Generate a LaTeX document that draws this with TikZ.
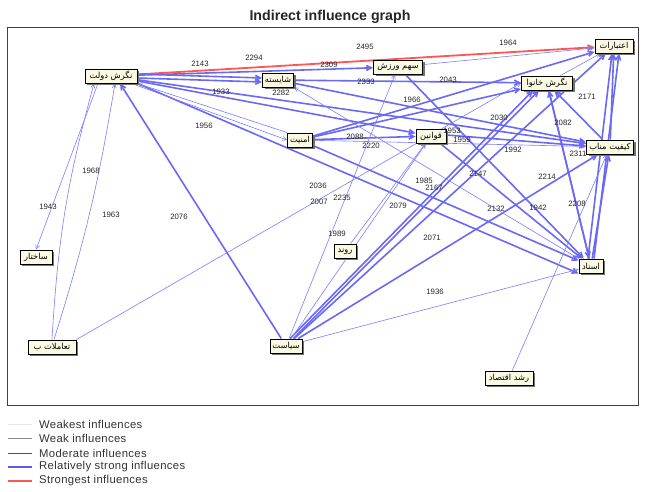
\documentclass[tikz,border=0pt]{standalone}
\usepackage{fontspec}
\setmainfont{Liberation Sans}
\newfontfamily\arabicfont[Script=Arabic]{DejaVu Sans}
\newfontfamily\legfont[LetterSpace=3]{Liberation Sans}
\TeXXeTstate=1
\usetikzlibrary{arrows.meta,shadows}
\definecolor{modblue}{RGB}{125,125,255}
\definecolor{strblue}{RGB}{105,105,245}
\definecolor{redl}{RGB}{255,85,85}
\definecolor{boxfill}{RGB}{250,250,226}
\definecolor{legmod}{RGB}{60,60,255}
\definecolor{legstr}{RGB}{90,90,250}
\newcommand\fa[1]{{\arabicfont\beginR #1\endR}}
\pgfdeclarelayer{bg}
\pgfsetlayers{bg,main}
\begin{document}
\begin{tikzpicture}[x=1pt,y=-1pt,
  var/.style={draw=black, line width=0.9pt, fill=boxfill, inner sep=1pt,
    minimum height=14pt, font=\fontsize{8.3}{9}\selectfont,
    drop shadow={shadow xshift=2pt, shadow yshift=-2pt, fill=black!55, opacity=1}},
  mod/.style={draw=modblue, line width=0.6pt, -{Straight Barb[length=4pt,width=4pt]}},
  strong/.style={draw=strblue, line width=1.6pt, -{Straight Barb[length=5pt,width=5pt]}},
  strongest/.style={draw=redl, line width=1.8pt, -{Straight Barb[length=5pt,width=5pt]}},
  num/.style={font=\fontsize{7.8}{8}\selectfont, text=black!85, inner sep=0pt},
  leg/.style={font=\legfont\fontsize{11.3}{12}\selectfont, text=black!80, anchor=west, inner sep=0pt}
]
\useasboundingbox (0,0) rectangle (646,491);
\node[font=\bfseries\fontsize{14.2}{15}\selectfont, text=black!85] (title) at (330,17) {Indirect influence graph};

% nodes
\node[var, minimum width=52pt] (gov) at (111,76) {\fa{نگرش دولت}};
\node[var, minimum width=31pt] (shay) at (278,80) {\fa{شایسته}};
\node[var, minimum width=49pt] (sahm) at (398,67) {\fa{سهم ورزش}};
\node[var, minimum width=38pt] (etebar) at (614,46) {\fa{اعتبارات}};
\node[var, minimum width=51pt] (khan) at (547,83) {\fa{نگرش خانوا}};
\node[var, minimum width=25pt] (amn) at (300,140) {\fa{امنیت}};
\node[var, minimum width=30pt] (qav) at (431,136) {\fa{قوانین}};
\node[var, minimum width=47pt] (keyf) at (610,147) {\fa{کیفیت مناب}};
\node[var, minimum width=32pt] (sakh) at (36,257) {\fa{ساختار}};
\node[var, minimum width=48pt] (taam) at (52,347) {\fa{تعاملات ب}};
\node[var, minimum width=32pt] (siasat) at (286,346) {\fa{سیاست}};
\node[var, minimum width=22pt] (ravand) at (345,251) {\fa{روند}};
\node[var, minimum width=24pt] (asnad) at (591,266) {\fa{اسناد}};
\node[var, minimum width=48pt] (roshd) at (509,378) {\fa{رشد اقتصاد}};

\begin{pgfonlayer}{bg}
\fill[white] (0,0) rectangle (646,491);
\draw[black!75, line width=0.8pt] (7,27) rectangle (638,405);
\draw[strongest] (gov) -- (etebar);
\draw[strong] (gov) -- (sahm);
\draw[strong] ([yshift=2pt]gov.east) -- ([yshift=2pt]shay.west);
\draw[strong] ([yshift=-2pt]gov.east) -- ([yshift=-2pt]shay.west);
\draw[strong] (gov) -- (qav);
\draw[strong] (gov) -- (keyf);
\draw[strong] (gov.south east) -- (asnad.south west);
\draw[mod] (gov) -- (amn.west);
\draw[mod] (amn.north west) -- (gov.south east);
\draw[mod] ([xshift=-13pt]gov.south) -- (sakh.north);
\draw[mod] (taam.north) to[bend left=6] ([xshift=-17pt]gov.south);
\draw[mod] ([xshift=2pt]taam.north) to[bend right=4] ([xshift=4pt]gov.south);
\draw[strong] (siasat) -- ([xshift=9pt]gov.south);
\draw[mod] (taam.north east) -- (khan.west);
\draw[strong] (shay) -- (khan);
\draw[strong] (shay) -- (keyf);
\draw[mod] (sahm) -- (etebar);
\draw[strong] (sahm) -- (asnad);
\draw[strong] (amn) -- (qav);
\draw[strong] (amn) -- (asnad);
\draw[strong] (amn) -- (etebar);
\draw[strong] (amn) -- (khan);
\draw[mod] (amn) -- (keyf);
\draw[strong] ([yshift=1pt]qav.east) -- ([yshift=1pt]keyf.west);
\draw[strong] (qav) -- (asnad);
\draw[strong] (siasat) -- ([xshift=-8pt]khan.south);
\draw[strong] ([xshift=4pt]siasat.north) -- ([xshift=-14pt]khan.south);
\draw[strong] (siasat) -- (etebar);
\draw[strong] (siasat) -- (keyf);
\draw[mod] (siasat) -- (qav);
\draw[mod] (siasat) -- (asnad);
\draw[mod] (siasat) -- (sahm);
\draw[mod] (ravand) -- (qav);
\draw[strong] ([xshift=-3pt]asnad.north) -- ([xshift=-2pt]etebar.south);
\draw[strong] ([xshift=3pt]asnad.north) -- ([xshift=5pt]etebar.south);
\draw[strong] (asnad) -- (keyf);
\draw[strong] (asnad) -- (khan);
\draw[mod] (asnad) -- (shay.south east);
\draw[strong] (keyf) -- (etebar);
\draw[strong] (keyf) -- (khan);
\draw[mod] (khan) -- (etebar);
\draw[strong] (khan) -- (asnad);
\draw[mod] (roshd) -- (keyf);
\end{pgfonlayer}

% labels
\node[num] (l2143) at (200,64) {2143};
\node[num] (l2294) at (254,58) {2294};
\node[num] (l2495) at (365,47) {2495};
\node[num] (l1964) at (508,43) {1964};
\node[num] (l2309) at (329,65) {2309};
\node[num] (l2333) at (366,82) {2333};
\node[num] (l2043) at (448,80) {2043};
\node[num] (l1933) at (221,92) {1933};
\node[num] (l2282) at (281,93) {2282};
\node[num] (l1966) at (412,100) {1966};
\node[num] (l2171) at (587,97) {2171};
\node[num] (l1956) at (204,126) {1956};
\node[num] (l2030) at (499,118) {2030};
\node[num] (l2082) at (563,123) {2082};
\node[num] (l1953) at (452,131) {1953};
\node[num] (l1959) at (462,140) {1959};
\node[num] (l2088) at (355,137) {2088};
\node[num] (l2220) at (371,146) {2220};
\node[num] (l1992) at (513,150) {1992};
\node[num] (l2311) at (578,154) {2311};
\node[num] (l2147) at (478,174) {2147};
\node[num] (l2214) at (547,177) {2214};
\node[num] (l1985) at (424,181) {1985};
\node[num] (l2167) at (434,188) {2167};
\node[num] (l2036) at (318,186) {2036};
\node[num] (l2007) at (319,202) {2007};
\node[num] (l2235) at (342,198) {2235};
\node[num] (l2079) at (398,206) {2079};
\node[num] (l2132) at (496,209) {2132};
\node[num] (l1942) at (538,208) {1942};
\node[num] (l2208) at (577,204) {2208};
\node[num] (l1989) at (337,234) {1989};
\node[num] (l2071) at (432,238) {2071};
\node[num] (l1936) at (435,292) {1936};
\node[num] (l1968) at (91,171) {1968};
\node[num] (l1943) at (48,207) {1943};
\node[num] (l1963) at (111,215) {1963};
\node[num] (l2076) at (179,217) {2076};

% legend
\draw[black!10, line width=0.8pt] (8,424) -- (32,424);
\draw[black!45, line width=0.8pt] (8,438) -- (32,438);
\draw[legmod, line width=0.8pt] (8,453) -- (32,453);
\draw[legstr, line width=1.6pt] (8,467) -- (32,467);
\draw[redl, line width=1.6pt] (8,481) -- (32,481);
\node[leg] (g1) at (39,424) {Weakest influences};
\node[leg] (g2) at (39,438) {Weak influences};
\node[leg] (g3) at (39,453) {Moderate influences};
\node[leg] (g4) at (39,467) {Relatively strong influences};
\node[leg] (g5) at (39,481) {Strongest influences};
\end{tikzpicture}
\end{document}
